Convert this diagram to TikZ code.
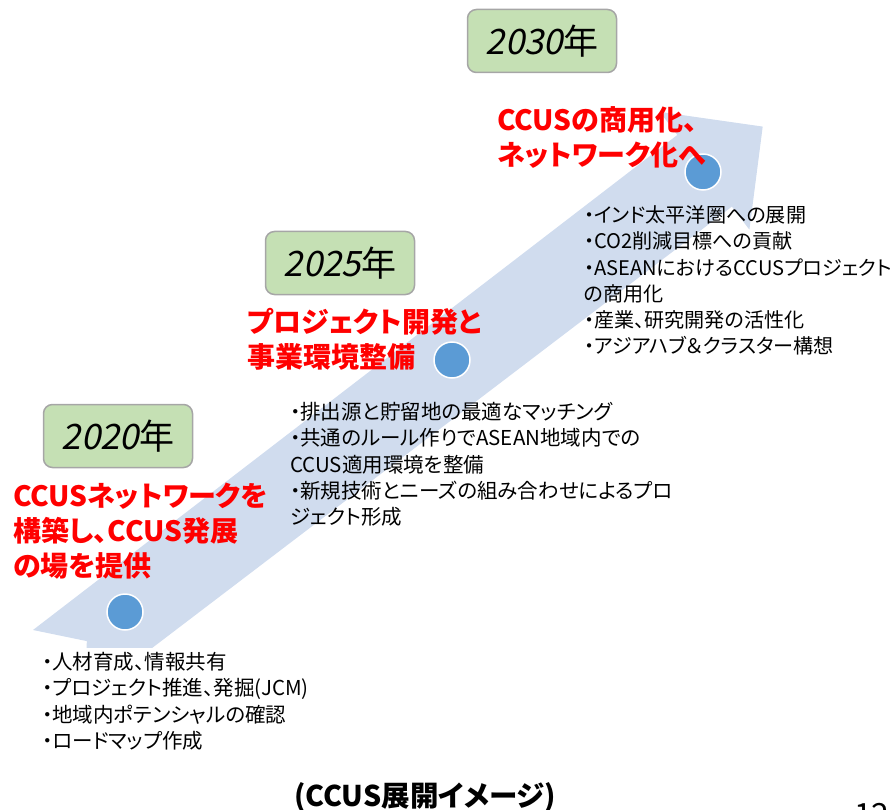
\documentclass[tikz,border=0pt]{standalone}
\usepackage{fontspec}
\setmainfont{Noto Sans CJK JP}[RawFeature=+palt]
\newfontfamily\slfont{Noto Sans CJK JP}[FakeSlant=0.2]
\definecolor{bandblue}{HTML}{D0DCEE}
\definecolor{dotblue}{HTML}{5B9BD5}
\definecolor{yearfill}{HTML}{C5E0B4}
\definecolor{yeardraw}{HTML}{A6A6A6}
\tikzset{
  yearbox/.style={draw=yeardraw, line width=1.5pt, fill=yearfill, rounded corners=9pt,
    minimum width=149pt, minimum height=63pt, inner sep=0pt,
    font=\fontsize{35}{35}\selectfont},
  redtxt/.style={text=red, font=\fontsize{28}{35}\selectfont\bfseries, align=left,
    anchor=base west, inner sep=0pt},
  listtxt/.style={font=\fontsize{20.5}{26.2}\selectfont, align=left,
    anchor=base west, inner sep=0pt},
  dotc/.style={circle, fill=dotblue, draw=white, line width=1.5pt,
    minimum size=36pt, inner sep=0pt},
}
\begin{document}
\begin{tikzpicture}[x=1pt,y=-1pt]
\useasboundingbox (0,0) rectangle (893,810);
% band arrow
\fill[bandblue] (33,630) -- (86.8,641.1) -- (85.5,698.7) -- (731.9,206.6)
  -- (749.4,229.7) -- (762.7,126.6) -- (659.8,111.9) -- (677.3,135) -- cycle;
% milestones
\node[dotc] (d2020) at (125,612) {};
\node[dotc] (d2025) at (452,360) {};
\node[dotc] (d2030) at (703,172) {};
% year boxes
\node[yearbox] (y2030) at (542,41) {{\slfont 2030}年};
\node[yearbox] (y2025) at (340,263) {{\slfont 2025}年};
\node[yearbox] (y2020) at (118,436) {{\slfont 2020}年};
% red headings (anchor = baseline of the last line)
\node[redtxt] (h2030) at (497,165.5) {CCUSの商用化、\\ネットワーク化へ};
\node[redtxt] (h2025) at (247,367.5) {プロジェクト開発と\\事業環境整備};
\node[redtxt] (h2020) at (13,576) {CCUSネットワークを\\構築し、CCUS発展\\の場を提供};
% lists
\node[listtxt, font=\fontsize{20.1}{26.2}\selectfont] (l2030) at (584,353.7) {・インド太平洋圏への展開\\・CO2削減目標への貢献\\・ASEANにおけるCCUSプロジェクト\\の商用化\\・産業、研究開発の活性化\\・アジアハブ＆クラスター構想};
\node[listtxt] (l2025) at (290,524.5) {・排出源と貯留地の最適なマッチング\\・共通のルール作りでASEAN地域内での\\CCUS適用環境を整備\\・新規技術とニーズの組み合わせによるプロ\\ジェクト形成};
\node[listtxt, fill=white, inner sep=4pt] (l2020) at (38,748.3) {・人材育成、情報共有\\・プロジェクト推進、発掘(JCM)\\・地域内ポテンシャルの確認\\・ロードマップ作成};
% caption
\node[anchor=base, inner sep=0pt, font=\fontsize{28.5}{28.5}\selectfont\bfseries] (cap) at (425,806.5) {(CCUS展開イメージ)};
% page number (cut by the page edge)
\begin{scope}
\clip (0,0) rectangle (893,810);
\node[anchor=base west, inner sep=0pt, font=\fontsize{32}{32}\selectfont] (pnum) at (854,826) {12};
\end{scope}
\end{tikzpicture}
\end{document}
